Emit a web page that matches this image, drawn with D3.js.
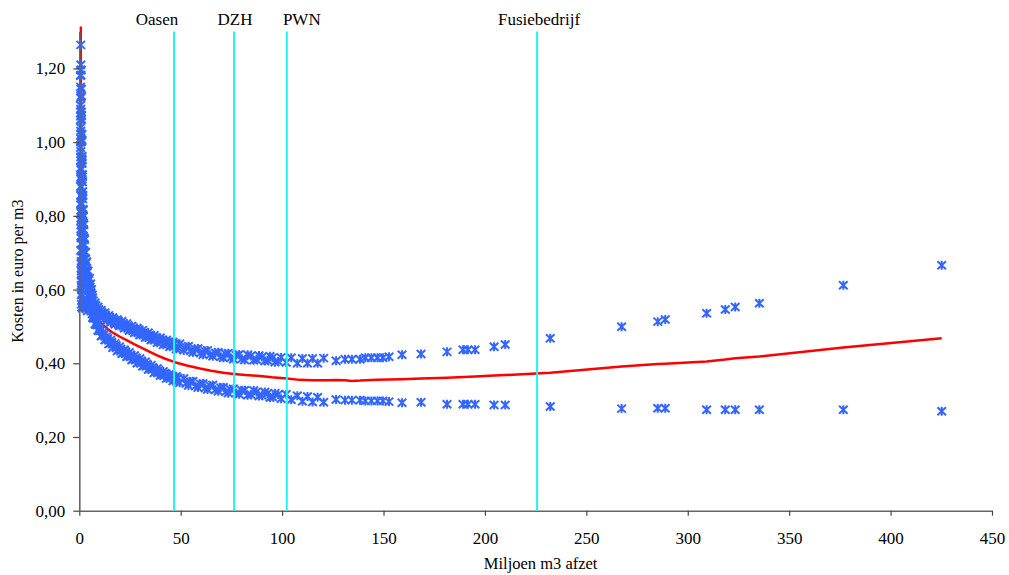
<!DOCTYPE html>
<html>
<head>
<meta charset="utf-8">
<script src="https://cdn.jsdelivr.net/npm/d3@7"></script>
<style>
  body { margin: 0; background: #fff; }
  svg text { font-family: "Liberation Serif", "Times New Roman", serif; fill: #000; }
</style>
</head>
<body>
<div id="chart"></div>
<script>
// afzet per bedrijf (miljoen m3) met hoge en lage kostenschatting
const afzet = [
  0.72, 0.76, 0.90, 0.95, 1.00, 1.05, 1.10, 1.20, 1.30, 1.37, 1.43, 1.50, 1.56, 1.65, 1.75, 1.86, 1.95, 2.08,
  2.21, 2.40, 2.60, 2.86, 3.12, 3.38, 3.64, 3.97, 4.29, 4.68, 5.00, 5.30, 5.55, 5.80, 6.00, 6.20, 6.40,
  0.60, 0.65, 0.68, 0.70, 0.62, 0.74, 0.66, 0.78, 0.70, 0.84, 0.72, 0.90, 0.75, 0.95, 0.80, 1.02, 0.85,
  1.10, 0.90, 1.18, 0.95, 1.25, 1.00, 1.35, 1.05, 1.45, 1.10, 1.60, 1.20, 2.20, 2.60, 3.00, 3.40, 4.00,
  6.6, 7.2, 7.8, 8.5, 9.2, 10.0, 10.8, 11.7, 12.6, 13.5, 14.5, 15.5, 16.5, 17.6, 18.7, 19.8, 21.0, 22.2, 23.4,
  24.6, 25.9, 27.2, 28.5, 29.8, 31.2, 32.6, 34.0, 35.4, 36.9, 38.4, 39.9, 41.4, 43.0, 44.6, 46.2, 47.8, 49.5,
  6.9, 7.5, 8.15, 8.85, 9.6, 10.4, 11.25, 12.15, 13.05, 14.0, 15.0, 16.0, 17.05, 18.15, 19.25, 20.4, 21.6, 22.8,
  24.0, 25.25, 26.55, 27.85, 29.15, 30.5, 31.9, 33.3, 34.7, 36.15, 37.65, 39.15, 40.65, 42.2, 43.8, 45.4, 47.0, 48.65,
  51.5, 53.8, 56.0, 58.5, 61.0, 63.2, 65.8, 68.5, 71.0, 73.4, 76.0, 78.8, 81.5, 83.0, 86.0, 88.6, 91.5, 94.0,
  96.5, 99.5, 102.0, 104.5, 107.5, 110.0, 112.5, 115.0, 117.5, 120.5,
  52.65, 54.9, 57.25, 59.75, 62.1, 64.5, 67.15, 69.75, 72.2, 74.7, 77.4, 80.15, 84.5, 87.3, 90.0, 92.75, 95.25, 98.0,
  126.6, 131.0, 134.4, 138.4, 141.0, 144.0, 147.0, 149.7, 152.7, 159.1, 168.5, 181.3, 189.2, 191.6, 195.1,
  204.5, 210.0, 232.2, 267.4, 285.2, 288.9, 309.3, 318.5, 323.4, 335.3, 376.7, 425.2
];
const kostenHoog = [
  1.264, 1.210, 1.196, 1.144, 1.126, 1.082, 1.072, 1.022, 1.006, 0.962, 0.951, 0.912, 0.906, 0.866, 0.856, 0.818, 0.816, 0.780,
  0.776, 0.740, 0.736, 0.702, 0.701, 0.672, 0.676, 0.647, 0.651, 0.625, 0.631, 0.607, 0.616, 0.592, 0.601, 0.577, 0.586,
  1.180, 1.150, 1.120, 1.090, 1.060, 1.030, 1.000, 0.975, 0.950, 0.925, 0.900, 0.878, 0.856, 0.835, 0.815, 0.795, 0.775,
  0.757, 0.740, 0.723, 0.707, 0.692, 0.677, 0.663, 0.650, 0.637, 0.624, 0.612, 0.600, 0.642, 0.628, 0.618, 0.610, 0.598,
  0.578, 0.555, 0.564, 0.542, 0.553, 0.532, 0.544, 0.524, 0.537, 0.517, 0.530, 0.511, 0.524, 0.506, 0.519, 0.501, 0.514, 0.495, 0.508,
  0.489, 0.501, 0.483, 0.496, 0.477, 0.490, 0.470, 0.483, 0.463, 0.476, 0.456, 0.469, 0.450, 0.463, 0.445, 0.458, 0.439, 0.453,
  0.570, 0.556, 0.557, 0.544, 0.546, 0.533, 0.537, 0.526, 0.530, 0.519, 0.524, 0.513, 0.519, 0.508, 0.514, 0.503, 0.508, 0.498,
  0.502, 0.491, 0.495, 0.485, 0.491, 0.479, 0.484, 0.472, 0.477, 0.465, 0.470, 0.459, 0.463, 0.453, 0.458, 0.448, 0.453, 0.442,
  0.435, 0.446, 0.429, 0.440, 0.423, 0.435, 0.419, 0.430, 0.415, 0.427, 0.411, 0.424, 0.409, 0.423, 0.408, 0.421, 0.406, 0.419,
  0.403, 0.416, 0.402, 0.415, 0.400, 0.413, 0.400, 0.413, 0.400, 0.414,
  0.444, 0.434, 0.438, 0.428, 0.433, 0.423, 0.428, 0.418, 0.425, 0.415, 0.4215, 0.412, 0.4195, 0.410, 0.417, 0.408, 0.415, 0.4055,
  0.407, 0.411, 0.411, 0.411, 0.415, 0.415, 0.415, 0.415, 0.418, 0.423, 0.425, 0.431, 0.437, 0.437, 0.437,
  0.445, 0.451, 0.468, 0.499, 0.513, 0.519, 0.536, 0.546, 0.553, 0.563, 0.612, 0.666
];
const kostenLaag = [
  1.196, 1.182, 1.144, 1.124, 1.074, 1.062, 1.020, 1.002, 0.954, 0.942, 0.899, 0.892, 0.854, 0.846, 0.804, 0.798, 0.764, 0.760,
  0.724, 0.720, 0.684, 0.682, 0.649, 0.652, 0.624, 0.627, 0.599, 0.605, 0.579, 0.587, 0.564, 0.572, 0.549, 0.557, 0.534,
  1.100, 1.070, 1.040, 1.010, 0.985, 0.960, 0.930, 0.905, 0.880, 0.855, 0.830, 0.808, 0.786, 0.765, 0.745, 0.725, 0.705,
  0.688, 0.671, 0.655, 0.640, 0.626, 0.612, 0.598, 0.585, 0.572, 0.560, 0.549, 0.552, 0.575, 0.565, 0.555, 0.548, 0.542,
  0.524, 0.531, 0.506, 0.512, 0.489, 0.496, 0.474, 0.484, 0.463, 0.473, 0.452, 0.463, 0.442, 0.454, 0.433, 0.445, 0.426, 0.437, 0.418,
  0.429, 0.409, 0.421, 0.400, 0.413, 0.392, 0.404, 0.383, 0.395, 0.374, 0.386, 0.367, 0.378, 0.359, 0.371, 0.352, 0.365, 0.347,
  0.522, 0.522, 0.505, 0.504, 0.488, 0.489, 0.475, 0.478, 0.464, 0.467, 0.454, 0.457, 0.445, 0.448, 0.436, 0.439, 0.428, 0.432,
  0.420, 0.423, 0.411, 0.415, 0.403, 0.407, 0.394, 0.398, 0.385, 0.389, 0.376, 0.381, 0.369, 0.373, 0.362, 0.366, 0.355, 0.360,
  0.359, 0.340, 0.351, 0.334, 0.345, 0.329, 0.341, 0.324, 0.335, 0.319, 0.331, 0.316, 0.327, 0.313, 0.326, 0.311, 0.322, 0.307,
  0.319, 0.304, 0.316, 0.301, 0.312, 0.297, 0.310, 0.295, 0.308, 0.294,
  0.346, 0.350, 0.338, 0.344, 0.333, 0.339, 0.328, 0.334, 0.323, 0.329, 0.3195, 0.326, 0.3155, 0.322, 0.313, 0.318, 0.309, 0.3155,
  0.302, 0.300, 0.300, 0.300, 0.298, 0.298, 0.298, 0.298, 0.296, 0.293, 0.294, 0.289, 0.289, 0.289, 0.289,
  0.287, 0.287, 0.283, 0.277, 0.278, 0.278, 0.274, 0.274, 0.274, 0.274, 0.274, 0.270
];

// gemiddelde kostencurve (rode lijn)
const gemAfzet = [
  0.62, 0.7, 0.8, 0.9, 1.0, 1.2, 1.5, 2.0, 2.8, 3.9, 5.2, 6.1, 6.8, 8, 10, 11.7, 14, 16, 20, 23.3, 27, 30, 34,
  38.1, 42, 47.1, 53, 59.5, 65, 71, 76.2, 82, 89, 95, 102.4, 108.8, 115, 122, 126.6, 131, 134.4, 138.4, 141,
  147, 152.7, 159.1, 168.5, 181.3, 195.1, 204.5, 210, 232.2, 267.4, 285.2, 288.9, 309.3, 318.5, 323.4, 335.3,
  376.7, 425.2
];
const gemKosten = [
  1.45, 1.32, 1.17, 1.06, 0.98, 0.90, 0.83, 0.76, 0.69, 0.635, 0.59, 0.56, 0.548, 0.532, 0.514, 0.504, 0.493,
  0.485, 0.472, 0.463, 0.452, 0.444, 0.433, 0.422, 0.413, 0.403, 0.394, 0.386, 0.380, 0.3745, 0.371, 0.368,
  0.3655, 0.362, 0.359, 0.355, 0.354, 0.354, 0.3545, 0.354, 0.352, 0.353, 0.354, 0.355, 0.356, 0.357, 0.359,
  0.361, 0.364, 0.367, 0.368, 0.3745, 0.391, 0.398, 0.399, 0.405, 0.410, 0.4135, 0.4185, 0.443, 0.468
];

// bedrijven met verticale lijn
const bedrijfNamen = ["Oasen", "DZH", "PWN", "Fusiebedrijf"];
const bedrijfAfzet = [46.7, 76.3, 102.3, 225.7];

const xTicks = [0, 50, 100, 150, 200, 250, 300, 350, 400, 450];
const yTicks = [0, 0.2, 0.4, 0.6, 0.8, 1.0, 1.2];

const width = 1009, height = 575;
const margin = { top: 31.6, right: 17, bottom: 64.3, left: 79.3 };

const svg = d3.select("#chart")
  .append("svg")
  .attr("width", width)
  .attr("height", height);

const x = d3.scaleLinear()
  .domain([0, 450])
  .range([margin.left, width - margin.right]);

const y = d3.scaleLinear()
  .domain([0, 1.3])
  .range([height - margin.bottom, margin.top]);

const komma = d => d3.format(".2f")(d).replace(".", ",");

svg.append("defs").append("clipPath")
  .attr("id", "plot-clip")
  .append("rect")
  .attr("x", margin.left)
  .attr("y", margin.top - 5)
  .attr("width", x(450) - margin.left)
  .attr("height", y(0) - margin.top + 5);

const points = afzet.map((d, i) => ({ x: d, hoog: kostenHoog[i], laag: kostenLaag[i] }));
const gem = gemAfzet.map((d, i) => ({ x: d, y: gemKosten[i] }));

// rode lijn
svg.append("path")
  .datum(gem)
  .attr("clip-path", "url(#plot-clip)")
  .attr("fill", "none")
  .attr("stroke", "#ff0000")
  .attr("stroke-width", 2.5)
  .attr("stroke-linejoin", "round")
  .attr("d", d3.line().x(d => x(d.x)).y(d => y(d.y)));

// sterretjes voor hoge en lage schatting
const star = "M-4.3,-4L4.3,4M-4.3,4L4.3,-4M0,-4.5L0,4.5";
const markers = svg.append("g")
  .attr("fill", "none")
  .attr("stroke", "#3366ff")
  .attr("stroke-width", 2);

["hoog", "laag"].forEach(key => {
  markers.selectAll("path." + key)
    .data(points)
    .join("path")
    .attr("class", key)
    .attr("d", star)
    .attr("transform", d => `translate(${x(d.x)},${y(d[key])})`);
});

// assen
const xAxis = svg.append("g")
  .attr("transform", `translate(0,${y(0)})`)
  .call(d3.axisBottom(x).tickValues(xTicks).tickSize(5).tickSizeOuter(0).tickPadding(16));

const yAxis = svg.append("g")
  .attr("transform", `translate(${margin.left},0)`)
  .call(d3.axisLeft(y).tickValues(yTicks).tickFormat(komma).tickSize(6).tickSizeOuter(0).tickPadding(8));

[xAxis, yAxis].forEach(g => {
  g.select(".domain").attr("stroke", "#666").attr("stroke-width", 1.6);
  g.selectAll(".tick line").attr("stroke", "#444").attr("stroke-width", 1.2);
  g.selectAll(".tick text")
    .style("font-family", '"Liberation Serif", serif')
    .style("font-size", "17px")
    .attr("fill", "#000");
});

// verticale lijnen bedrijven
const labelDx = { Oasen: -17, DZH: 1, PWN: 15, Fusiebedrijf: 2 };
const bedrijven = bedrijfNamen.map((n, i) => ({ naam: n, afzet: bedrijfAfzet[i] }));

svg.selectAll("line.bedrijf")
  .data(bedrijven)
  .join("line")
  .attr("class", "bedrijf")
  .attr("x1", d => x(d.afzet))
  .attr("x2", d => x(d.afzet))
  .attr("y1", y(1.3))
  .attr("y2", y(0))
  .attr("stroke", "#22f5f5")
  .attr("stroke-width", 2);

svg.selectAll("text.bedrijf")
  .data(bedrijven)
  .join("text")
  .attr("class", "bedrijf")
  .attr("x", d => x(d.afzet) + labelDx[d.naam])
  .attr("y", 25)
  .attr("text-anchor", "middle")
  .style("font-size", "17px")
  .text(d => d.naam);

// astitels
svg.append("text")
  .attr("x", (x(0) + x(450)) / 2 + 5)
  .attr("y", 569)
  .attr("text-anchor", "middle")
  .style("font-size", "16.5px")
  .text("Miljoen m3 afzet");

svg.append("text")
  .attr("transform", `translate(23,${(y(0) + y(1.3)) / 2}) rotate(-90)`)
  .attr("text-anchor", "middle")
  .style("font-size", "16px")
  .text("Kosten in euro per m3");
</script>
</body>
</html>
